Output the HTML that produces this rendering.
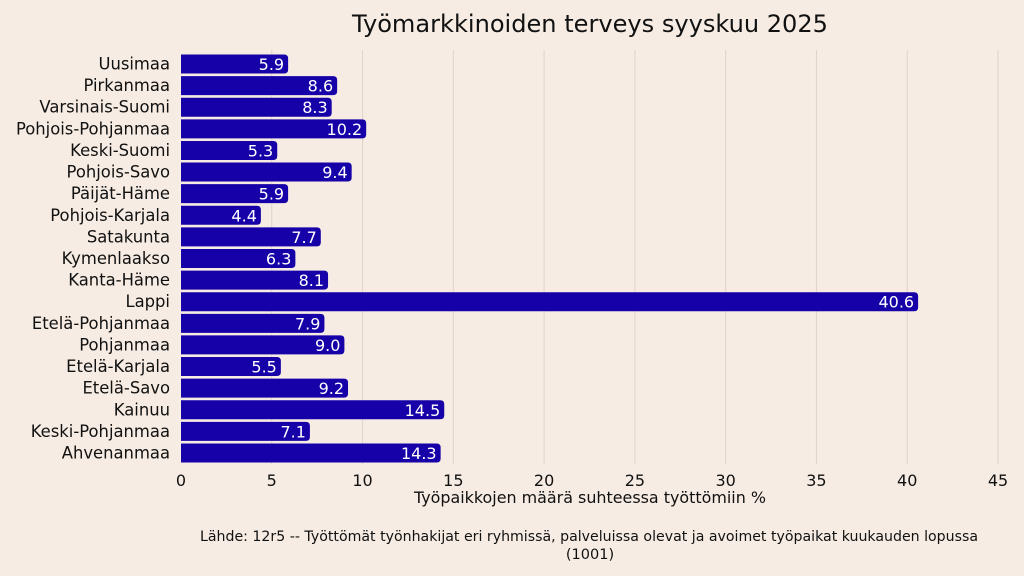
<!DOCTYPE html>
<html><head><meta charset="utf-8"><style>
html,body{margin:0;padding:0;background:#f6ece3;}
svg{display:block;font-family:"DejaVu Sans","Liberation Sans",sans-serif;}
</style></head><body>
<svg width="1024" height="576" viewBox="0 0 1024 576" xmlns="http://www.w3.org/2000/svg">
<rect width="1024" height="576" fill="#f6ece3"/>
<text x="590" y="32" font-size="24" text-anchor="middle" fill="#111" textLength="476" lengthAdjust="spacingAndGlyphs">Työmarkkinoiden terveys syyskuu 2025</text>
<g id="grid" stroke="#ddd4cb" stroke-width="1"></g>
<g id="bars"></g>
<g id="ticks" font-size="16" fill="#111" text-anchor="middle"></g>
<text x="590" y="503" font-size="16" text-anchor="middle" fill="#111" textLength="352" lengthAdjust="spacingAndGlyphs">Työpaikkojen määrä suhteessa työttömiin %</text>
<text x="589" y="541" font-size="14.5" text-anchor="middle" fill="#111" textLength="778" lengthAdjust="spacingAndGlyphs">Lähde: 12r5 -- Työttömät työnhakijat eri ryhmissä, palveluissa olevat ja avoimet työpaikat kuukauden lopussa</text>
<text x="590" y="559" font-size="14.5" text-anchor="middle" fill="#111">(1001)</text>
</svg>
<script>
const data=[["Uusimaa",5.9],["Pirkanmaa",8.6],["Varsinais-Suomi",8.3],["Pohjois-Pohjanmaa",10.2],["Keski-Suomi",5.3],["Pohjois-Savo",9.4],["Päijät-Häme",5.9],["Pohjois-Karjala",4.4],["Satakunta",7.7],["Kymenlaakso",6.3],["Kanta-Häme",8.1],["Lappi",40.6],["Etelä-Pohjanmaa",7.9],["Pohjanmaa",9.0],["Etelä-Karjala",5.5],["Etelä-Savo",9.2],["Kainuu",14.5],["Keski-Pohjanmaa",7.1],["Ahvenanmaa",14.3]];
const ns="http://www.w3.org/2000/svg";
const x0=181,k=817/45,y0=64,st=21.61;
function el(t,a,p,txt){const e=document.createElementNS(ns,t);for(const q in a)e.setAttribute(q,a[q]);if(txt!==undefined)e.textContent=txt;p.appendChild(e);return e;}
const g=document.getElementById("grid"),b=document.getElementById("bars"),tk=document.getElementById("ticks");
for(let v=0;v<=45;v+=5){const x=x0+v*k;if(v>0)el("line",{x1:x,x2:x,y1:50,y2:464},g);el("text",{x:x,y:486},tk,String(v));}
data.forEach((d,i)=>{const cy=y0+i*st,w=d[1]*k,h=19,y=cy-9.5,r=4;
el("path",{d:`M${x0} ${y}H${x0+w-r}Q${x0+w} ${y} ${x0+w} ${y+r}V${y+h-r}Q${x0+w} ${y+h} ${x0+w-r} ${y+h}H${x0}Z`,fill:"#1600a8"},b);
el("text",{x:x0+w-4,y:cy+6,"font-size":16,"text-anchor":"end",fill:"#fff"},b,d[1].toFixed(1));
el("text",{x:170,y:cy+5.5,"font-size":16.4,"text-anchor":"end",fill:"#111"},b,d[0]);});
</script>
</body></html>
